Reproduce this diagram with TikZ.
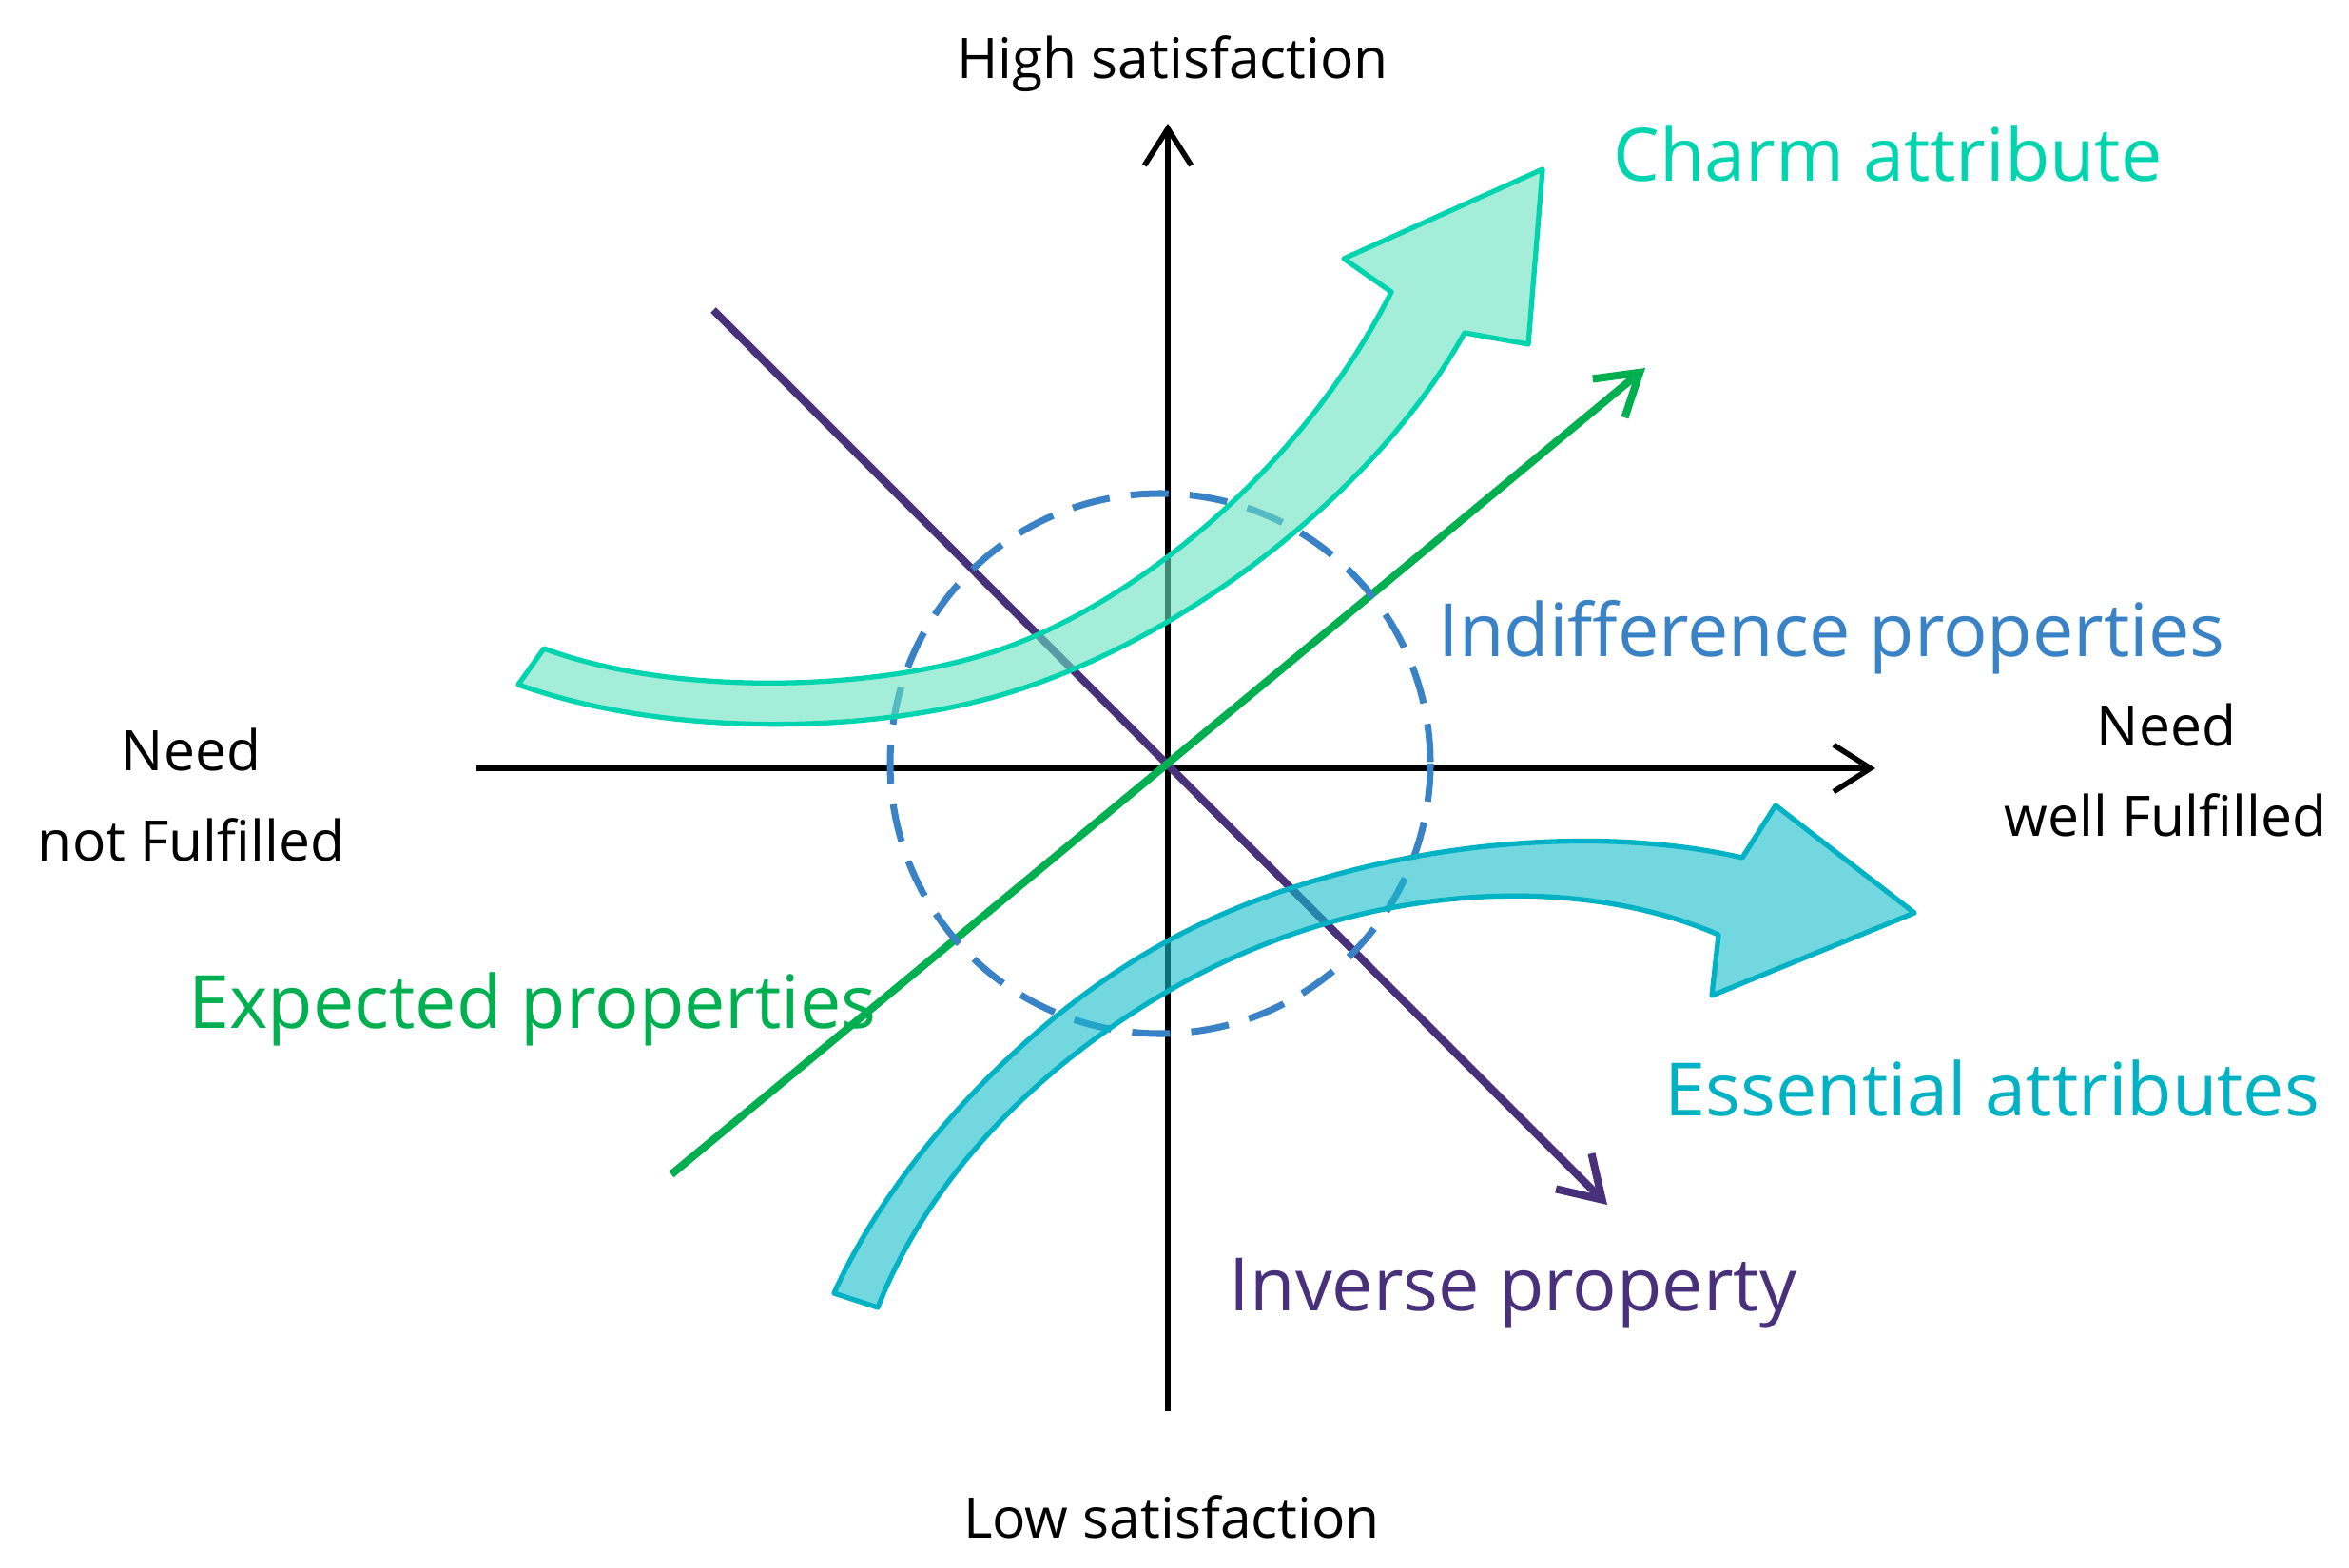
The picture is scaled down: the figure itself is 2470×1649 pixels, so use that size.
\documentclass[tikz,border=0pt]{standalone}
\usepackage{fontspec}
\setmainfont{Open Sans}
\usetikzlibrary{arrows.meta}
\definecolor{charm}{RGB}{0,212,175}
\definecolor{charmfill}{RGB}{102,225,192}
\definecolor{ess}{RGB}{0,178,196}
\definecolor{essfill}{RGB}{20,188,202}
\definecolor{indiff}{RGB}{58,130,198}
\definecolor{expgreen}{RGB}{0,176,80}
\definecolor{invpurple}{RGB}{72,48,122}
\begin{document}
\begin{tikzpicture}[x=0.01cm,y=-0.01cm,
  axisline/.style={line width=1.6pt, black, -{Straight Barb[length=11pt,width=14pt]}},
  diagline/.style={line width=2.3pt, -{Straight Barb[length=12pt,width=15pt]}},
  dashcircle/.style={draw=indiff, line width=2pt, dash pattern=on 11.4pt off 6.3pt},
  bigarrow/.style={line width=1.5pt, line join=round, fill opacity=0.6},
  blacklabel/.style={font=\fontsize{16.7}{20}\selectfont, anchor=base, inner sep=0pt},
  collabel/.style={font=\fontsize{22}{26}\selectfont, anchor=base, inner sep=0pt}
]
\useasboundingbox (0,0) rectangle (2470,1649);
% coordinates
\coordinate (xl) at (501,808);
\coordinate (xr) at (1972,808);
\coordinate (yb) at (1228,1484);
\coordinate (yt) at (1228,130);
\coordinate (inv1) at (750,326);
\coordinate (inv2) at (1690,1267);
\coordinate (exp1) at (706,1235);
\coordinate (exp2) at (1730,387);
\coordinate (cc) at (1220,803);
% axes
\draw[axisline] (xl) -- (xr);
\draw[axisline] (yb) -- (yt);
% diagonal lines
\draw[diagline, invpurple] (inv1) -- (inv2);
\draw[diagline, expgreen] (exp1) -- (exp2);
% dashed circle
\draw[dashcircle] (cc) circle[radius=284];
% charm arrow
\filldraw[bigarrow, draw=charm, fill=charmfill]
  (572,682) .. controls (700,730) and (900,728) .. (1030,690)
  .. controls (1170,650) and (1360,510) .. (1463,307)
  -- (1413,272) -- (1622,178) -- (1607,362) -- (1540,350)
  .. controls (1440,530) and (1220,690) .. (1030,737)
  .. controls (900,770) and (700,775) .. (545,720)
  -- cycle;
% essential arrow
\filldraw[bigarrow, draw=ess, fill=essfill]
  (877,1360) .. controls (940,1220) and (1080,1070) .. (1227,990)
  .. controls (1400,895) and (1650,860) .. (1832,902)
  -- (1867,847) -- (2013,960) -- (1800,1047) -- (1807,983)
  .. controls (1650,915) and (1420,930) .. (1227,1043)
  .. controls (1100,1117) and (980,1230) .. (923,1375)
  -- cycle;
% labels
\node[blacklabel] (hs) at (1233,83) {High satisfaction};
\node[blacklabel] (ls) at (1232,1617) {Low satisfaction};
\node[blacklabel] (nl1) at (201,810) {Need};
\node[blacklabel] (nl2) at (201,905) {not Fulfilled};
\node[blacklabel] (nr1) at (2278,784) {Need};
\node[blacklabel] (nr2) at (2277,879) {well Fulfilled};
\node[collabel, text=charm] (lc) at (1985,191) {Charm attribute};
\node[collabel, text=indiff] (li) at (1926,690) {Indifference properties};
\node[collabel, text=expgreen] (lx) at (560,1081) {Expected properties};
\node[collabel, text=ess] (le) at (2095,1173) {Essential attributes};
\node[collabel, text=invpurple] (lv) at (1591,1378) {Inverse property};
\end{tikzpicture}
\end{document}
